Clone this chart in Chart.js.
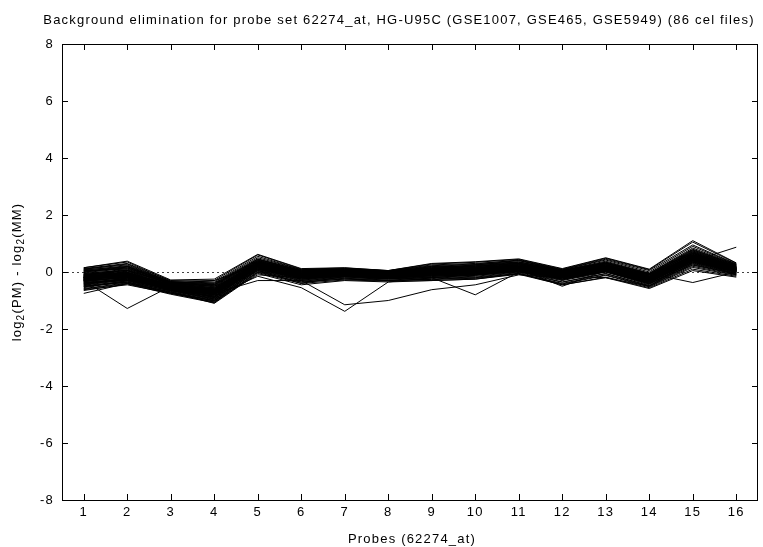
<!DOCTYPE html>
<html><head><meta charset="utf-8">
<script src="https://cdn.jsdelivr.net/npm/chart.js@4.4.0/dist/chart.umd.min.js"></script>
<style>html,body{margin:0;padding:0;background:#fff;}#wrap{width:763px;height:547px;}</style>
</head><body><div id="wrap"><canvas id="c" width="763" height="547"></canvas></div>
<script>
const chartTitle = "Background elimination for probe set 62274_at, HG-U95C (GSE1007, GSE465, GSE5949) (86 cel files)";
const xAxisTitle = "Probes (62274_at)";
const yAxisTitleParts = [["log", false], ["2", true], ["(PM) - log", false], ["2", true], ["(MM)", false]];
const probes = ["1","2","3","4","5","6","7","8","9","10","11","12","13","14","15","16"];
const yTicks = [-8, -6, -4, -2, 0, 2, 4, 6, 8];
// log2(PM) - log2(MM) per cel file, one row per file, one value per probe
const celFiles = [
[-0.20,-0.10,-0.50,-0.70,0.25,-0.10,-0.05,-0.10,0.00,0.05,0.15,-0.10,0.15,-0.25,0.50,0.10],
[-0.30,-0.20,-0.55,-0.80,0.20,-0.15,-0.10,-0.15,-0.05,0.00,0.10,-0.15,0.10,-0.30,0.45,0.05],
[-0.10,0.00,-0.45,-0.60,0.30,-0.05,0.00,-0.05,0.05,0.10,0.20,-0.05,0.20,-0.20,0.55,0.15],
[-0.40,-0.25,-0.60,-0.85,0.15,-0.20,-0.15,-0.20,-0.10,-0.05,0.05,-0.20,0.05,-0.35,0.40,0.00],
[0.05,0.10,-0.40,-0.55,0.35,0.00,0.05,0.00,0.10,0.15,0.25,0.00,0.25,-0.15,0.65,0.20],
[-0.25,-0.04,-0.53,-0.76,0.27,-0.11,-0.07,-0.09,0.01,0.03,0.13,-0.09,0.17,-0.27,0.47,0.09],
[-0.15,-0.15,-0.45,-0.65,0.20,-0.05,0.00,-0.12,0.02,0.08,0.18,-0.08,0.12,-0.22,0.48,0.12],
[-0.35,0.05,-0.55,-0.90,0.30,-0.12,-0.08,-0.08,-0.02,0.02,0.12,-0.12,0.18,-0.28,0.55,0.08],
[-0.05,-0.30,-0.40,-0.50,0.10,-0.20,-0.02,-0.15,-0.08,-0.02,0.10,-0.18,0.08,-0.18,0.42,0.05],
[-0.50,-0.35,-0.70,-1.00,0.05,-0.30,-0.20,-0.25,-0.20,-0.15,0.00,-0.30,0.00,-0.45,0.30,-0.05],
[0.10,0.25,-0.35,-0.40,0.45,0.05,0.10,0.02,0.15,0.25,0.35,0.05,0.35,-0.05,0.80,0.25],
[-0.20,-0.05,-0.60,-0.80,0.28,-0.08,-0.04,-0.06,0.04,0.06,0.14,-0.06,0.14,-0.26,0.52,0.14],
[-0.28,-0.12,-0.48,-0.68,0.22,-0.12,-0.06,-0.10,-0.02,0.04,0.18,-0.12,0.18,-0.30,0.58,0.06],
[-0.12,-0.08,-0.52,-0.72,0.32,-0.06,0.02,-0.08,0.06,0.12,0.22,-0.02,0.22,-0.20,0.62,0.18],
[-0.45,-0.20,-0.65,-0.95,0.12,-0.25,-0.12,-0.22,-0.12,-0.08,0.06,-0.25,0.04,-0.40,0.35,0.00],
[0.00,0.15,-0.38,-0.48,0.40,0.02,0.06,0.00,0.12,0.20,0.30,0.02,0.30,-0.10,0.72,0.22],
[-0.22,-0.02,-0.47,-0.62,0.26,-0.13,-0.03,-0.11,0.03,0.07,0.16,-0.11,0.13,-0.24,0.51,0.11],
[-0.32,-0.18,-0.58,-0.78,0.18,-0.14,-0.08,-0.14,-0.04,0.00,0.12,-0.14,0.10,-0.32,0.46,0.04],
[-0.18,-0.10,-0.46,-0.66,0.24,-0.08,-0.02,-0.08,0.02,0.06,0.16,-0.08,0.16,-0.22,0.54,0.12],
[-0.60,-0.40,-0.75,-1.05,0.00,-0.35,-0.25,-0.30,-0.25,-0.20,-0.05,-0.40,-0.10,-0.50,0.20,-0.10],
[0.12,0.30,-0.30,-0.35,0.55,0.08,0.12,0.04,0.25,0.30,0.40,0.08,0.45,0.05,0.95,0.28],
[-0.08,0.05,-0.42,-0.58,0.34,-0.04,0.03,-0.04,0.08,0.14,0.26,0.00,0.26,-0.14,0.66,0.16],
[-0.38,-0.28,-0.62,-0.88,0.14,-0.18,-0.12,-0.18,-0.10,-0.06,0.04,-0.20,0.02,-0.36,0.38,0.02],
[-0.26,-0.14,-0.54,-0.74,0.22,-0.12,-0.06,-0.12,-0.02,0.02,0.14,-0.12,0.12,-0.28,0.48,0.08],
[-0.14,-0.06,-0.44,-0.64,0.28,-0.06,0.00,-0.06,0.04,0.10,0.20,-0.04,0.20,-0.18,0.58,0.14],
[-0.55,-0.30,-0.68,-1.02,0.08,-0.28,-0.18,-0.24,-0.18,-0.12,0.02,-0.35,-0.05,-0.48,0.28,-0.08],
[0.02,0.20,-0.36,-0.45,0.42,0.04,0.08,0.02,0.18,0.22,0.32,0.04,0.32,-0.08,0.76,0.24],
[-0.20,-0.12,-0.56,-0.76,0.20,-0.10,-0.06,-0.12,0.00,0.04,0.12,-0.10,0.14,-0.26,0.50,0.08],
[-0.30,-0.08,-0.48,-0.70,0.26,-0.16,-0.04,-0.08,-0.04,0.06,0.18,-0.14,0.16,-0.30,0.52,0.10],
[-0.16,-0.16,-0.52,-0.68,0.30,-0.04,-0.02,-0.10,0.04,0.08,0.16,-0.06,0.18,-0.20,0.56,0.12],
[-0.42,-0.22,-0.64,-0.92,0.16,-0.22,-0.14,-0.20,-0.14,-0.10,0.04,-0.22,0.06,-0.38,0.42,0.02],
[-0.06,0.08,-0.40,-0.56,0.36,-0.02,0.04,-0.02,0.10,0.16,0.28,0.02,0.28,-0.12,0.68,0.18],
[-0.24,-0.10,-0.50,-0.72,0.24,-0.10,-0.04,-0.10,0.00,0.04,0.14,-0.10,0.14,-0.24,0.50,0.10],
[-0.34,-0.16,-0.56,-0.82,0.18,-0.16,-0.10,-0.16,-0.06,-0.02,0.10,-0.16,0.08,-0.34,0.44,0.04],
[-0.10,-0.04,-0.44,-0.62,0.32,-0.04,0.02,-0.04,0.06,0.12,0.22,-0.02,0.22,-0.18,0.60,0.16],
[-0.65,-0.42,-0.78,-1.08,-0.02,-0.40,-0.28,-0.32,-0.30,-0.25,-0.08,-0.45,-0.18,-0.55,0.10,-0.15],
[0.15,0.35,-0.32,-0.30,0.60,0.10,0.14,0.05,0.28,0.34,0.44,0.10,0.48,0.08,1.05,0.30],
[-0.20,-0.06,-0.46,-0.70,0.22,-0.08,-0.06,-0.08,0.02,0.06,0.14,-0.08,0.16,-0.22,0.48,0.12],
[-0.28,-0.14,-0.52,-0.74,0.26,-0.12,-0.04,-0.12,-0.02,0.02,0.16,-0.12,0.12,-0.28,0.54,0.06],
[-0.18,-0.08,-0.50,-0.66,0.28,-0.10,-0.02,-0.06,0.02,0.08,0.18,-0.06,0.18,-0.24,0.56,0.12],
[-0.36,-0.24,-0.58,-0.86,0.14,-0.18,-0.12,-0.18,-0.08,-0.04,0.06,-0.18,0.06,-0.34,0.40,0.02],
[-0.02,0.12,-0.38,-0.52,0.38,0.00,0.06,0.00,0.12,0.18,0.30,0.04,0.30,-0.10,0.70,0.20],
[-0.23,-0.11,-0.53,-0.77,0.23,-0.11,-0.06,-0.11,-0.01,0.03,0.14,-0.11,0.13,-0.26,0.49,0.09],
[-0.48,-0.32,-0.66,-0.98,0.10,-0.26,-0.16,-0.24,-0.16,-0.10,0.02,-0.28,0.02,-0.42,0.32,-0.04],
[0.06,0.22,-0.34,-0.42,0.46,0.06,0.10,0.04,0.20,0.26,0.36,0.06,0.38,-0.04,0.84,0.26],
[-0.14,-0.02,-0.48,-0.64,0.30,-0.06,0.00,-0.06,0.04,0.10,0.20,-0.04,0.20,-0.18,0.58,0.14],
[-0.30,-0.18,-0.56,-0.80,0.20,-0.14,-0.08,-0.14,-0.04,0.00,0.10,-0.14,0.10,-0.30,0.46,0.06],
[-0.26,-0.04,-0.52,-0.70,0.24,-0.10,-0.04,-0.10,0.02,0.06,0.16,-0.10,0.16,-0.24,0.52,0.10],
[-0.12,-0.12,-0.46,-0.68,0.28,-0.08,-0.02,-0.08,0.04,0.08,0.18,-0.06,0.18,-0.22,0.56,0.14],
[-0.44,-0.26,-0.62,-0.94,0.12,-0.22,-0.14,-0.22,-0.12,-0.08,0.04,-0.24,0.04,-0.40,0.36,0.00],
[0.08,0.18,-0.36,-0.44,0.44,0.04,0.08,0.02,0.16,0.22,0.34,0.06,0.34,-0.06,0.78,0.24],
[-0.20,-0.08,-0.50,-0.72,0.26,-0.10,-0.04,-0.10,0.00,0.06,0.16,-0.08,0.16,-0.24,0.52,0.10],
[-0.32,-0.20,-0.60,-0.84,0.16,-0.16,-0.10,-0.16,-0.06,-0.02,0.08,-0.16,0.08,-0.32,0.42,0.04],
[-0.08,0.02,-0.42,-0.60,0.34,-0.04,0.02,-0.04,0.08,0.12,0.24,0.00,0.24,-0.16,0.64,0.16],
[-0.24,-0.12,-0.54,-0.76,0.22,-0.12,-0.06,-0.12,-0.02,0.02,0.12,-0.12,0.12,-0.28,0.48,0.08],
[-0.16,-0.06,-0.48,-0.66,0.28,-0.08,-0.02,-0.08,0.02,0.08,0.18,-0.06,0.18,-0.22,0.54,0.12],
[-0.52,-0.36,-0.72,-1.02,0.06,-0.32,-0.22,-0.28,-0.22,-0.18,-0.02,-0.36,-0.06,-0.48,0.24,-0.08],
[0.00,0.18,-0.38,-0.46,0.40,0.02,0.06,0.00,0.14,0.20,0.30,0.02,0.30,-0.10,0.74,0.22],
[-0.28,-0.10,-0.52,-0.74,0.22,-0.12,-0.06,-0.10,-0.02,0.04,0.14,-0.12,0.14,-0.26,0.50,0.08],
[-0.18,-0.14,-0.48,-0.70,0.26,-0.08,-0.04,-0.08,0.02,0.06,0.16,-0.08,0.16,-0.24,0.52,0.12],
[-0.38,-0.22,-0.60,-0.88,0.16,-0.18,-0.12,-0.18,-0.08,-0.04,0.06,-0.20,0.06,-0.36,0.40,0.02],
[-0.04,0.06,-0.40,-0.56,0.36,-0.02,0.04,-0.02,0.10,0.14,0.26,0.02,0.26,-0.14,0.66,0.18],
[-0.22,-0.08,-0.50,-0.70,0.24,-0.10,-0.04,-0.10,0.00,0.04,0.14,-0.10,0.14,-0.24,0.50,0.10],
[-0.34,-0.18,-0.58,-0.80,0.18,-0.16,-0.10,-0.16,-0.06,0.00,0.10,-0.16,0.08,-0.32,0.44,0.04],
[-0.10,-0.02,-0.44,-0.62,0.32,-0.06,0.02,-0.04,0.06,0.12,0.22,-0.02,0.22,-0.18,0.60,0.16],
[-0.58,-0.38,-0.74,-1.06,0.02,-0.36,-0.24,-0.30,-0.26,-0.22,-0.06,-0.42,-0.12,-0.52,0.16,-0.12],
[0.10,0.28,-0.34,-0.38,0.50,0.08,0.12,0.04,0.22,0.28,0.42,0.08,0.42,0.00,0.90,0.27],
[-0.20,-0.10,-0.52,-0.72,0.24,-0.10,-0.04,-0.10,0.00,0.04,0.14,-0.10,0.16,-0.24,0.50,0.10],
[-0.26,-0.16,-0.54,-0.76,0.20,-0.12,-0.08,-0.12,-0.04,0.02,0.12,-0.12,0.12,-0.28,0.46,0.06],
[-0.14,-0.04,-0.46,-0.64,0.30,-0.06,0.00,-0.06,0.04,0.10,0.20,-0.04,0.20,-0.18,0.58,0.14],
[-0.46,-0.28,-0.64,-0.96,0.10,-0.24,-0.16,-0.22,-0.14,-0.10,0.02,-0.26,0.02,-0.42,0.34,-0.02],
[0.04,0.14,-0.38,-0.50,0.38,0.02,0.06,0.00,0.12,0.18,0.30,0.04,0.32,-0.08,0.70,0.20],
[-0.30,-1.28,-0.50,-0.60,0.10,-0.10,-0.05,-0.10,0.00,0.05,0.15,-0.10,0.15,-0.25,0.50,0.10],
[-0.40,-0.30,-0.60,-0.75,-0.30,-0.30,-1.15,-1.00,-0.62,-0.45,-0.10,-0.20,0.00,-0.30,0.35,0.00],
[-0.50,-0.35,-0.65,-0.85,-0.15,-0.55,-1.38,-0.35,-0.20,-0.10,0.05,-0.25,0.05,-0.35,0.40,0.05],
[-0.20,-0.10,-0.50,-0.70,0.20,-0.10,-0.05,-0.10,-0.20,-0.80,0.00,-0.15,0.10,-0.25,0.45,0.10],
[-0.20,-0.10,-0.50,-0.65,0.20,-0.10,-0.05,-0.10,0.00,0.05,0.10,-0.10,0.10,-0.05,-0.37,0.00],
[-0.25,-0.15,-0.50,-0.70,0.25,-0.10,-0.05,-0.10,0.00,0.05,0.15,-0.10,0.15,-0.10,0.38,0.87],
[-0.75,-0.40,-0.70,-1.10,-0.05,-0.45,-0.30,-0.35,-0.30,-0.25,-0.05,-0.45,-0.20,-0.58,0.05,-0.18],
[0.15,0.38,-0.28,-0.25,0.62,0.12,0.15,0.05,0.30,0.36,0.46,0.12,0.50,0.10,1.10,0.32],
[-0.62,-0.45,-0.75,-1.00,-0.10,-0.20,-0.10,-0.20,-0.10,-0.05,0.05,-0.20,0.00,-0.40,0.25,-0.05],
[-0.20,-0.10,-0.55,-0.75,0.05,-0.40,-0.15,-0.10,0.00,0.00,0.10,-0.50,0.05,-0.30,0.45,0.05],
[-0.30,0.20,-0.45,-0.60,0.30,0.00,0.05,-0.05,0.20,0.10,0.20,0.00,0.25,-0.20,0.60,0.15],
[-0.15,-0.20,-0.60,-0.90,0.20,-0.15,-0.10,-0.15,-0.30,0.00,0.10,-0.15,-0.20,-0.50,0.45,-0.10],
[-0.25,-0.05,-0.45,-0.70,0.30,-0.05,0.00,-0.05,0.05,0.25,0.40,0.05,0.20,-0.20,0.60,0.20],
[-0.10,0.05,-0.40,-0.30,0.25,-0.05,0.00,0.00,0.10,0.15,0.25,0.00,0.20,-0.15,0.55,0.15]
];

const FONT = "'Liberation Sans', Arial, Helvetica, sans-serif";
const LS = '1.2px';
const FS = 13;

const framePlugin = {
  id: 'frame',
  beforeDraw(chart) {
    chart.ctx.letterSpacing = LS;
  },
  beforeDatasetsDraw(chart) {
    const {ctx, chartArea: a, scales: {y}} = chart;
    const py = Math.round(y.getPixelForValue(0)) + 0.5;
    ctx.save();
    ctx.strokeStyle = '#444';
    ctx.lineWidth = 1;
    ctx.setLineDash([2, 3]);
    ctx.beginPath(); ctx.moveTo(a.left, py); ctx.lineTo(a.right, py); ctx.stroke();
    ctx.restore();
  },
  afterDatasetsDraw(chart) {
    const {ctx, chartArea: a, scales: {x, y}} = chart;
    ctx.save();
    ctx.strokeStyle = '#000';
    ctx.lineWidth = 1;
    ctx.setLineDash([]);
    ctx.beginPath();
    probes.forEach((p, i) => {
      const px = Math.round(x.getPixelForValue(i)) + 0.5;
      ctx.moveTo(px, a.bottom); ctx.lineTo(px, a.bottom - 6);
      ctx.moveTo(px, a.top); ctx.lineTo(px, a.top + 6);
    });
    yTicks.forEach(v => {
      const py = Math.round(y.getPixelForValue(v)) + 0.5;
      ctx.moveTo(a.left, py); ctx.lineTo(a.left + 6, py);
      ctx.moveTo(a.right, py); ctx.lineTo(a.right - 6, py);
    });
    ctx.stroke();
    ctx.strokeRect(a.left + 0.5, a.top + 0.5, a.right - a.left - 1, a.bottom - a.top);
    ctx.restore();
  },
  afterDraw(chart) {
    const {ctx, chartArea: a} = chart;
    ctx.save();
    ctx.letterSpacing = LS;
    ctx.fillStyle = '#000';
    ctx.font = FS + 'px ' + FONT;
    ctx.textBaseline = 'alphabetic';
    ctx.textAlign = 'center';
    ctx.fillText(chartTitle, 399, 24);
    ctx.fillText(xAxisTitle, (a.left + a.right) / 2 + 2, 543);
    // rotated y title with subscripts
    const parts = yAxisTitleParts.map(([t, sub]) => {
      ctx.font = (sub ? '10px ' : FS + 'px ') + FONT;
      return {t, sub, w: ctx.measureText(t).width};
    });
    const total = parts.reduce((s, p) => s + p.w, 0);
    ctx.translate(21, (a.top + a.bottom) / 2);
    ctx.rotate(-Math.PI / 2);
    ctx.textAlign = 'left';
    let cx = -total / 2;
    parts.forEach(p => {
      ctx.font = (p.sub ? '10px ' : FS + 'px ') + FONT;
      ctx.fillText(p.t, cx, p.sub ? 3 : 0);
      cx += p.w;
    });
    ctx.restore();
  }
};

const datasets = celFiles.map((vals, i) => ({
  label: 'cel ' + (i + 1),
  data: vals,
  borderColor: '#000',
  borderWidth: 1,
  pointRadius: 0,
  tension: 0,
  fill: false
}));

new Chart(document.getElementById('c'), {
  type: 'line',
  data: { labels: probes, datasets },
  plugins: [framePlugin],
  options: {
    responsive: false,
    animation: false,
    devicePixelRatio: 1,
    events: [],
    layout: { padding: { top: 44, right: 5, left: 0, bottom: 0 } },
    plugins: { legend: { display: false }, title: { display: false }, tooltip: { enabled: false } },
    scales: {
      x: {
        type: 'category',
        offset: true,
        grid: { display: false, drawTicks: false },
        border: { display: false },
        ticks: { color: '#000', font: { family: FONT, size: FS }, padding: 5, autoSkip: false, maxRotation: 0 },
        afterFit(s) { s.height = 47; }
      },
      y: {
        min: -8, max: 8,
        grid: { display: false, drawTicks: false },
        border: { display: false },
        afterBuildTicks(s) { s.ticks = yTicks.map(v => ({ value: v })); },
        ticks: { color: '#000', font: { family: FONT, size: FS }, padding: 8 },
        afterFit(s) { s.width = 62; }
      }
    }
  }
});
</script>
</body></html>
